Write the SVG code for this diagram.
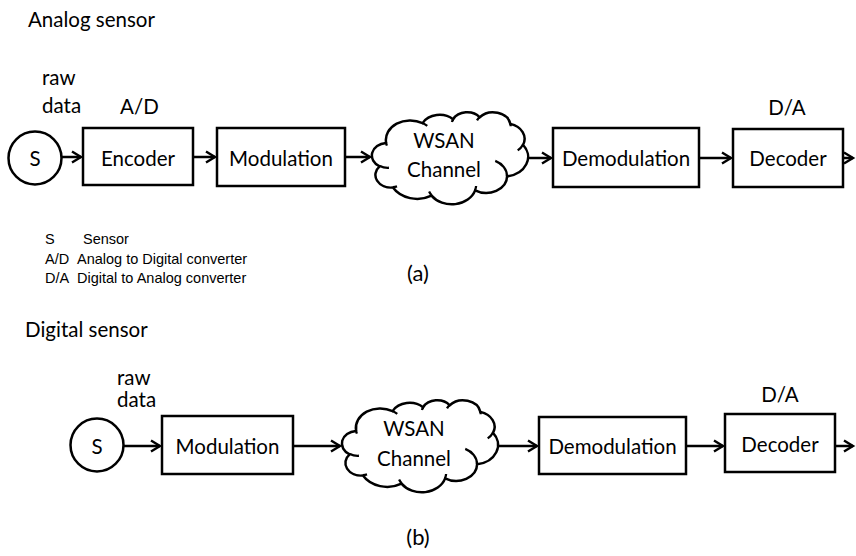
<svg xmlns="http://www.w3.org/2000/svg" width="856" height="556" viewBox="0 0 856 556">
  <style>
    .box { fill: #fff; stroke: #000; stroke-width: 2.5; }
    .node { fill: #fff; stroke: #000; stroke-width: 2.5; }
    .cloud { fill: #fff; stroke: #000; stroke-width: 2.5; vector-effect: non-scaling-stroke; }
    .hint { fill: none; stroke: #000; stroke-width: 2.3; vector-effect: non-scaling-stroke; }
    .lbl { font-family: Lato, "Liberation Sans", sans-serif; font-size: 20.5px; fill: #000; }
    .mid { text-anchor: middle; }
    .cap { font-family: Lato, "Liberation Sans", sans-serif; font-size: 22px; fill: #000; text-anchor: middle; }
    .legend { font-family: "Liberation Sans", Arial, sans-serif; font-size: 14.5px; fill: #000; }
    .conn line { stroke: #000; stroke-width: 2.5; marker-end: url(#arrow); }
  </style>
  <defs>
    <marker id="arrow" viewBox="-2 -2 16 16" refX="10" refY="6" markerWidth="16" markerHeight="16" markerUnits="userSpaceOnUse" orient="auto" overflow="visible">
      <path d="M1,0.5 L10,6 L1,11.5" fill="none" stroke="#000" stroke-width="2.4"/>
    </marker>
    <!-- cloud shape drawn in a 43200 x 43200 unit box -->
    <g id="cloud">
      <path class="cloud" d="M3900,14370 A6753,9190 0 0 1 14005,5202 A5333,7267 0 0 1 22458,3430 A4365,5945 0 0 1 29835,2480 A4857,6595 0 0 1 38320,5575 A5333,7273 0 0 1 41821,15459 A6775,9220 0 0 1 37407,30201 A5785,7867 0 0 1 28558,36811 A6752,9215 0 0 1 16483,39263 A7720,10543 0 0 1 5806,35467 A4360,5918 0 0 1 2115,25546 A4345,5945 0 0 1 3865,14502 Z"/>
      <path class="hint" d="M4693,26177 A4345,5945 0 0 1 2159,25380 M6928,34899 A4360,5918 0 0 1 5820,35281 M16478,39090 A6752,9215 0 0 1 15810,37349 M28827,34751 A6752,9215 0 0 1 28560,36660 M34129,22954 A5785,7867 0 0 1 37381,30090 M41798,15354 A5333,7273 0 0 1 40349,18031 M38324,5426 A4857,6595 0 0 1 38400,6690 M29078,3952 A4857,6595 0 0 1 29820,2340 M22141,4720 A4365,5945 0 0 1 22500,3331 M14000,5192 A6753,9190 0 0 1 15301,6541 M4127,15789 A6753,9190 0 0 1 3900,14371"/>
    </g>
  </defs>

  <rect width="856" height="556" fill="#fff"/>

  <!-- (a) analog sensor chain -->
  <text class="lbl" x="28" y="27">Analog sensor</text>
  <text class="lbl" x="42" y="85">raw</text>
  <text class="lbl" x="42" y="113">data</text>

  <g id="a-sensor">
    <circle class="node" cx="35" cy="158" r="26.5"/>
    <text class="lbl mid" x="35" y="166">S</text>
  </g>
  <g id="a-encoder">
    <text class="lbl" x="120" y="114">A/D</text>
    <rect class="box" x="83" y="128" width="110" height="57"/>
    <text class="lbl mid" x="138" y="166">Encoder</text>
  </g>
  <g id="a-modulation">
    <rect class="box" x="217" y="128" width="128" height="58"/>
    <text class="lbl mid" x="281" y="166">Modulation</text>
  </g>
  <g id="a-channel">
    <use href="#cloud" transform="translate(372,112) scale(0.0036111,0.0021296)"/>
    <text class="lbl mid" x="444" y="148">WSAN</text>
    <text class="lbl mid" x="444" y="177">Channel</text>
  </g>
  <g id="a-demodulation">
    <rect class="box" x="553" y="128" width="146" height="59"/>
    <text class="lbl mid" x="626" y="166">Demodulation</text>
  </g>
  <g id="a-decoder">
    <text class="lbl mid" x="787" y="115">D/A</text>
    <rect class="box" x="733" y="129" width="110" height="58"/>
    <text class="lbl mid" x="788" y="166">Decoder</text>
  </g>

  <g class="conn" id="a-connectors">
    <line x1="62" y1="157" x2="81" y2="157"/>
    <line x1="193" y1="157" x2="215" y2="157"/>
    <line x1="345" y1="157" x2="370" y2="157"/>
    <line x1="528" y1="158" x2="551" y2="158"/>
    <line x1="699" y1="158" x2="731" y2="158"/>
    <line x1="843" y1="158" x2="853" y2="158"/>
  </g>

  <!-- legend -->
  <g id="legend" class="legend">
    <text x="45" y="244">S</text>
    <text x="83" y="244">Sensor</text>
    <text x="45" y="263.5">A/D</text>
    <text x="77" y="263.5">Analog to Digital converter</text>
    <text x="45" y="283">D/A</text>
    <text x="77" y="283">Digital to Analog converter</text>
  </g>
  <text class="cap" x="418" y="281">(a)</text>

  <!-- (b) digital sensor chain -->
  <text class="lbl" x="25" y="337">Digital sensor</text>
  <text class="lbl" x="117" y="385">raw</text>
  <text class="lbl" x="117" y="407">data</text>

  <g id="b-sensor">
    <circle class="node" cx="97" cy="445" r="26.5"/>
    <text class="lbl mid" x="97" y="454">S</text>
  </g>
  <g id="b-modulation">
    <rect class="box" x="162" y="416" width="131" height="58"/>
    <text class="lbl mid" x="227.5" y="454">Modulation</text>
  </g>
  <g id="b-channel">
    <use href="#cloud" transform="translate(342,400) scale(0.0036111,0.0021296)"/>
    <text class="lbl mid" x="414" y="436">WSAN</text>
    <text class="lbl mid" x="414" y="466">Channel</text>
  </g>
  <g id="b-demodulation">
    <rect class="box" x="539" y="417" width="147" height="57"/>
    <text class="lbl mid" x="612.5" y="454">Demodulation</text>
  </g>
  <g id="b-decoder">
    <text class="lbl mid" x="780" y="402">D/A</text>
    <rect class="box" x="725" y="414" width="110" height="58"/>
    <text class="lbl mid" x="780" y="452">Decoder</text>
  </g>

  <g class="conn" id="b-connectors">
    <line x1="123" y1="446" x2="160" y2="446"/>
    <line x1="293" y1="446" x2="340" y2="446"/>
    <line x1="498" y1="446" x2="537" y2="446"/>
    <line x1="686" y1="446" x2="723" y2="446"/>
    <line x1="835" y1="446" x2="853" y2="446"/>
  </g>

  <text class="cap" x="418" y="545">(b)</text>
</svg>
